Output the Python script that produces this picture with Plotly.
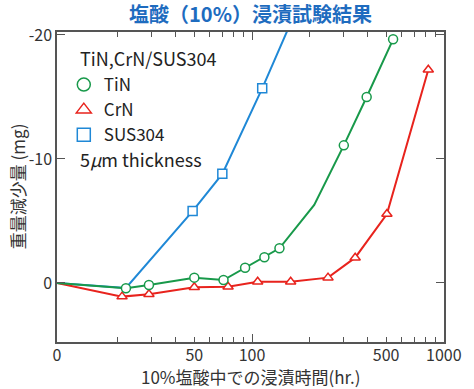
import plotly.graph_objects as go
import math

# ---- data (hours, weight change in mg; negative = loss) ----
hours_tin = [0, 22, 29, 50, 71, 92, 116, 139, 211, 301, 396, 544]
loss_tin = [0, 0.43, 0.16, -0.43, -0.24, -1.23, -2.07, -2.8, -6.3, -11.1, -15.0, -19.65]
tin_unmarked = [0, 211]

hours_crn = [0, 21, 29, 50, 75, 107, 159, 249, 345, 505, 830]
loss_crn = [0, 1.1, 0.91, 0.35, 0.3, -0.1, -0.1, -0.43, -2.04, -5.56, -17.2]
crn_unmarked = [0]

hours_sus = [0, 22, 49, 70, 113, 200]
loss_sus = [0, 0.4, -5.8, -8.8, -15.7, -24.5]
sus_unmarked = [0, 22]

x_tick_labels = ["0", "50", "100", "500", "1000"]
x_tick_hours = [0, 50, 100, 500, 1000]
x_minor_hours = [20, 30, 40, 60, 70, 80, 90, 200, 300, 400, 600, 700, 800, 900]
y_ticks = [-20, -10, 0]

# ---- layout constants ----
W, H = 474, 389
ML, MR, MT, MB = 57, 18.5, 32, 47
PW, PH = W - ML - MR, H - MT - MB
XMIN_LOG, XMAX_LOG = 0.983, 3.001
X_ZERO = 10 ** XMIN_LOG  # hour 0 is drawn on the left edge
YRANGE = [4.76, -20.24]

GREEN = "#18994a"
RED = "#e8231d"
BLUE = "#1f88d6"
TITLE_BLUE = "#1e6cbf"
AX = "#555555"
TXT = "#333333"
FONT = "Noto Sans CJK JP"


def xmap(h):
    return [X_ZERO if v == 0 else v for v in h]


def px(x):
    return (x - ML) / PW


def py(y):
    return (H - MB - y) / PH


fig = go.Figure()

series = [
    ("SUS304", hours_sus, loss_sus, sus_unmarked, BLUE, "square"),
    ("CrN", hours_crn, loss_crn, crn_unmarked, RED, "triangle-up"),
    ("TiN", hours_tin, loss_tin, tin_unmarked, GREEN, "circle"),
]

for name, h, v, unm, col, sym in series:
    fig.add_trace(go.Scatter(x=xmap(h), y=v, mode="lines",
                             line=dict(color=col, width=2),
                             showlegend=False, hoverinfo="skip"))

for name, h, v, unm, col, sym in series:
    mh = [a for a in h if a not in unm]
    mv = [b for a, b in zip(h, v) if a not in unm]
    fig.add_trace(go.Scatter(x=xmap(mh), y=mv, mode="markers",
                             marker=dict(symbol=sym, size=9, color="white",
                                         line=dict(color=col, width=1.5)),
                             showlegend=False, cliponaxis=True))

# legend entries
for name, col, sym in [("TiN", GREEN, "circle"), ("CrN", RED, "triangle-up"),
                       ("SUS304", BLUE, "square")]:
    fig.add_trace(go.Scatter(x=[None], y=[None], mode="markers", name=name,
                             marker=dict(symbol=sym, size=13, color="white",
                                         line=dict(color=col, width=1.5))))

# helper trace for overlay axis (long tick at 100)
fig.add_trace(go.Scatter(x=[None], y=[None], xaxis="x2", showlegend=False,
                         hoverinfo="skip", mode="markers"))

fig.update_layout(
    width=W, height=H,
    margin=dict(l=ML, r=MR, t=MT, b=MB),
    paper_bgcolor="white", plot_bgcolor="white",
    font=dict(family=FONT, color=TXT, size=16),
    title=dict(text="<b>塩酸（10%）浸漬試験結果</b>", x=0.5, xref="paper", xanchor="center",
               y=1 - 15 / H, yanchor="middle",
               font=dict(size=20, color=TITLE_BLUE, family=FONT)),
    xaxis=dict(type="log", range=[XMIN_LOG, XMAX_LOG],
               tickmode="array", tickvals=xmap(x_tick_hours), ticktext=x_tick_labels,
               ticks="inside", ticklen=5, tickwidth=1, tickcolor=AX,
               ticklabelstandoff=-2,
               showline=True, linecolor=AX, linewidth=1.5, mirror="ticks",
               showgrid=False, zeroline=False,
               tickfont=dict(size=16, color=TXT),
               minor=dict(tickmode="array", tickvals=x_minor_hours, ticks="inside",
                          ticklen=5, tickwidth=1, tickcolor=AX, showgrid=False)),
    xaxis2=dict(type="log", range=[XMIN_LOG, XMAX_LOG], overlaying="x", side="bottom",
                anchor="y", tickmode="array", tickvals=[100], ticks="inside", ticklen=8,
                tickwidth=1, tickcolor=AX, showticklabels=False, showline=False,
                showgrid=False, zeroline=False, mirror="ticks"),
    yaxis=dict(range=YRANGE, tickmode="array", tickvals=y_ticks,
               ticktext=[str(t) for t in y_ticks],
               ticks="inside", ticklen=8, tickwidth=1, tickcolor=AX,
               showline=True, linecolor=AX, linewidth=1.5, mirror="ticks",
               showgrid=False, zeroline=False,
               tickfont=dict(size=16, color=TXT)),
    legend=dict(x=px(64), y=py(67), xanchor="left", yanchor="top",
                bgcolor="rgba(0,0,0,0)", font=dict(size=17, color="#222222", family=FONT),
                itemsizing="trace", tracegroupgap=0),
    showlegend=True,
)

annots = [
    dict(text="TiN,CrN/SUS304", x=px(79), y=py(58), xanchor="left", yanchor="middle",
         font=dict(size=18, color="#222222")),
    dict(text="5<i>μ</i>m thickness", x=px(79), y=py(159), xanchor="left", yanchor="middle",
         font=dict(size=18, color="#222222")),
    dict(text="10%塩酸中での浸漬時間(hr.)", x=0.5, y=py(376.5), xanchor="center",
         yanchor="middle", font=dict(size=17, color=TXT)),
    dict(text="重量減少量 (mg)", x=px(16), y=py(186), xanchor="center", yanchor="middle",
         textangle=-90, font=dict(size=17, color=TXT)),
]
for a in annots:
    fig.add_annotation(xref="paper", yref="paper", showarrow=False, **a)

fig.write_html("out.html")
